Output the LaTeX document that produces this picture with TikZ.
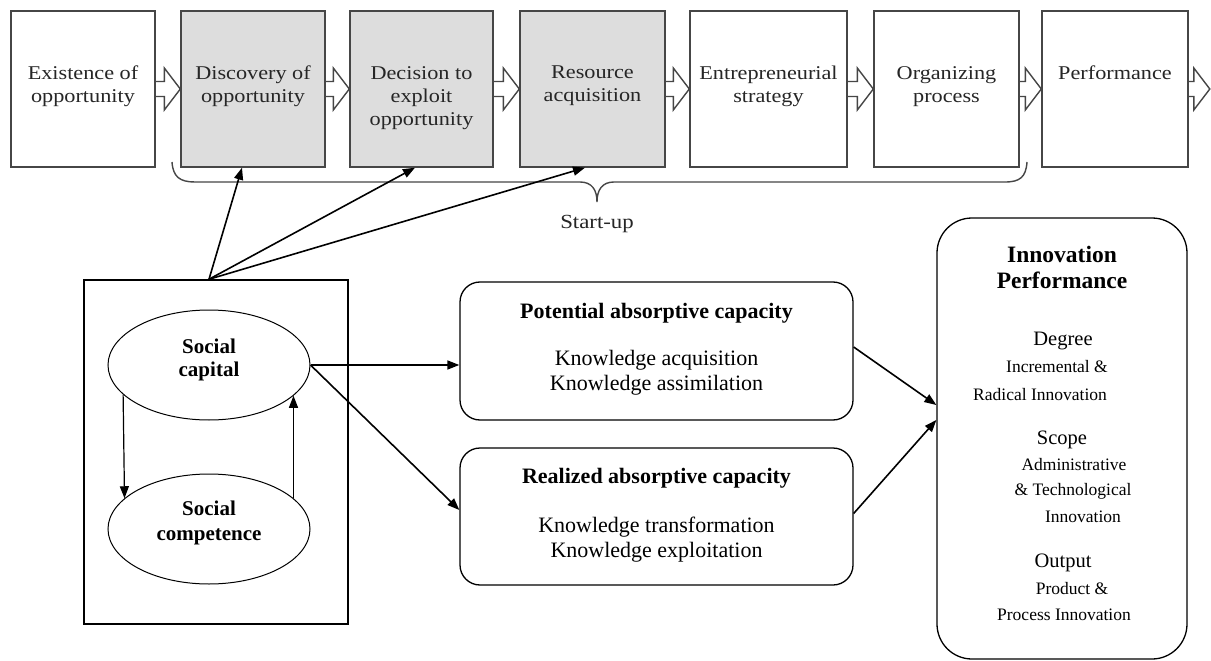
\documentclass[tikz,border=0pt]{standalone}
\usepackage{fontspec}
\newfontfamily\tnr{Liberation Serif}
\newfontfamily\topf[FakeStretch=1.14]{Liberation Serif}
\usetikzlibrary{arrows.meta,shapes.geometric}
\definecolor{boxline}{RGB}{70,70,70}
\definecolor{boxfill}{RGB}{221,221,221}
\newcommand\blkarr[2]{\draw[blk] ([yshift=7.5pt]#1.east) -- ([xshift=-16pt,yshift=7.5pt]#2.west) -- ([xshift=-16pt,yshift=21pt]#2.west) -- (#2.west) -- ([xshift=-16pt,yshift=-21pt]#2.west) -- ([xshift=-16pt,yshift=-7.5pt]#2.west) -- ([yshift=-7.5pt]#1.east);}
\begin{document}
\begin{tikzpicture}[x=1pt,y=-1pt,
  topbox/.style={draw=boxline, line width=1.4pt, minimum height=156, inner sep=0},
  grey/.style={fill=boxfill},
  toptxt/.style={font=\topf\fontsize{19.5}{23}\selectfont, text=black!85, align=center, inner sep=0, anchor=north},
  blk/.style={draw=boxline, line width=1.4pt, line join=miter},
  arr/.style={line width=1.6pt, -{Triangle[length=12pt,width=9pt]}},
  thinarr/.style={line width=1.2pt, -{Triangle[length=12pt,width=9pt]}},
  lowbox/.style={draw, line width=1.3pt, rounded corners=20pt, inner sep=0},
  ell/.style={draw, ellipse, line width=1pt, minimum width=202, minimum height=110, inner sep=0},
  tx/.style={anchor=base, inner sep=0, font=\tnr\fontsize{22}{26}\selectfont},
  btx/.style={anchor=base, inner sep=0, font=\tnr\bfseries\fontsize{22}{26}\selectfont},
  stx/.style={anchor=base, inner sep=0, font=\tnr\bfseries\fontsize{21}{25}\selectfont},
  hd/.style={anchor=base, inner sep=0, font=\tnr\bfseries\fontsize{23.5}{28}\selectfont},
  mid/.style={anchor=base, inner sep=0, font=\tnr\fontsize{20.5}{24}\selectfont},
  sm/.style={anchor=base, inner sep=0, font=\tnr\fontsize{17.5}{21}\selectfont}]
\fill[white] (0,0) rectangle (1211,661);
\useasboundingbox (0,0) rectangle (1211,661);
% top row
\node[topbox, minimum width=144] (b1) at (83,89) {};
\node[topbox, grey, minimum width=144] (b2) at (253,89) {};
\node[topbox, grey, minimum width=143] (b3) at (421.5,89) {};
\node[topbox, grey, minimum width=145] (b4) at (592.5,89) {};
\node[topbox, minimum width=157] (b5) at (768.5,89) {};
\node[topbox, minimum width=145] (b6) at (946.5,89) {};
\node[topbox, minimum width=146] (b7) at (1115,89) {};
\node[inner sep=0, minimum size=0] (endp) at (1210,89) {};
\node[toptxt] (t1) at (83,66) {Existence of\\opportunity};
\node[toptxt] (t2) at (253,66) {Discovery of\\opportunity};
\node[toptxt] (t3) at (421.5,66) {Decision to\\exploit\\opportunity};
\node[toptxt] (t4) at (592.5,66) {Resource\\acquisition};
\node[toptxt] (t5) at (768.5,66) {Entrepreneurial\\strategy};
\node[toptxt] (t6) at (946.5,66) {Organizing\\process};
\node[toptxt] (t7) at (1115,66) {Performance};
\blkarr{b1}{b2}
\blkarr{b2}{b3}
\blkarr{b3}{b4}
\blkarr{b4}{b5}
\blkarr{b5}{b6}
\blkarr{b6}{b7}
\blkarr{b7}{endp}
% brace
\draw[boxline, line width=1.4pt] (172,162) .. controls (173,177) and (180,182) .. (195,182) -- (580,182) .. controls (592,182) and (597,190) .. (597,202) .. controls (597,190) and (602,182) .. (614,182) -- (1005,182) .. controls (1020,182) and (1026,177) .. (1027,162);
\node[anchor=base, inner sep=0, font=\topf\fontsize{20}{24}\selectfont, text=black!85] (su) at (597,228) {Start-up};
% social box
\node[draw, line width=1.5pt, minimum width=264, minimum height=344, inner sep=0] (soc) at (216,452) {};
\node[ell] (cap) at (209,365) {};
\node[ell] (comp) at (209,529) {};
\node[stx] at (209,353) {Social};
\node[stx] at (209,376) {capital};
\node[stx] at (209,515) {Social};
\node[stx] at (209,540) {competence};
\draw[thinarr] (cap.199.3) -- (comp.160.7);
\draw[thinarr] (comp.20.7) -- (cap.-20.7);
% arrows to top row
\coordinate (s) at ([xshift=-7pt]soc.north);
\draw[arr] (s) -- ([xshift=-11pt]b2.south);
\draw[arr] (s) -- ([xshift=-6.5pt]b3.south);
\draw[arr] (s) -- ([xshift=-7.5pt]b4.south);
% absorptive capacity
\node[lowbox, minimum width=393, minimum height=138] (pot) at (656.5,351) {};
\node[lowbox, minimum width=393, minimum height=137] (real) at (656.5,516.5) {};
\node[btx] at (656.5,318) {Potential absorptive capacity};
\node[tx] at (656.5,365) {Knowledge acquisition};
\node[tx] at (656.5,390) {Knowledge assimilation};
\node[btx] at (656.5,483) {Realized absorptive capacity};
\node[tx] at (656.5,532) {Knowledge transformation};
\node[tx] at (656.5,557) {Knowledge exploitation};
\draw[arr] (cap.east) -- (cap.east -| pot.west);
\draw[arr] (cap.east) -- ([yshift=6.5pt]real.west);
% innovation performance
\node[draw, line width=1.3pt, rounded corners=35pt, minimum width=250, minimum height=441, inner sep=0] (inno) at (1062,438.5) {};
\node[hd] at (1062,262) {Innovation};
\node[hd] at (1062,288) {Performance};
\node[mid] at (1063,345) {Degree};
\node[sm] at (1057,372) {Incremental \&};
\node[sm, anchor=base west] at (973,400) {Radical Innovation};
\node[mid] at (1062,444) {Scope};
\node[sm] at (1074,470) {Administrative};
\node[sm] at (1073,495) {\& Technological};
\node[sm] at (1083,522) {Innovation};
\node[mid] at (1063,567) {Output};
\node[sm] at (1072,594) {Product \&};
\node[sm] at (1064,620) {Process Innovation};
\draw[arr] ([yshift=4pt]pot.east) -- ([yshift=33.5pt]inno.west);
\draw[arr] ([yshift=3pt]real.east) -- ([yshift=18.5pt]inno.west);
\end{tikzpicture}
\end{document}
